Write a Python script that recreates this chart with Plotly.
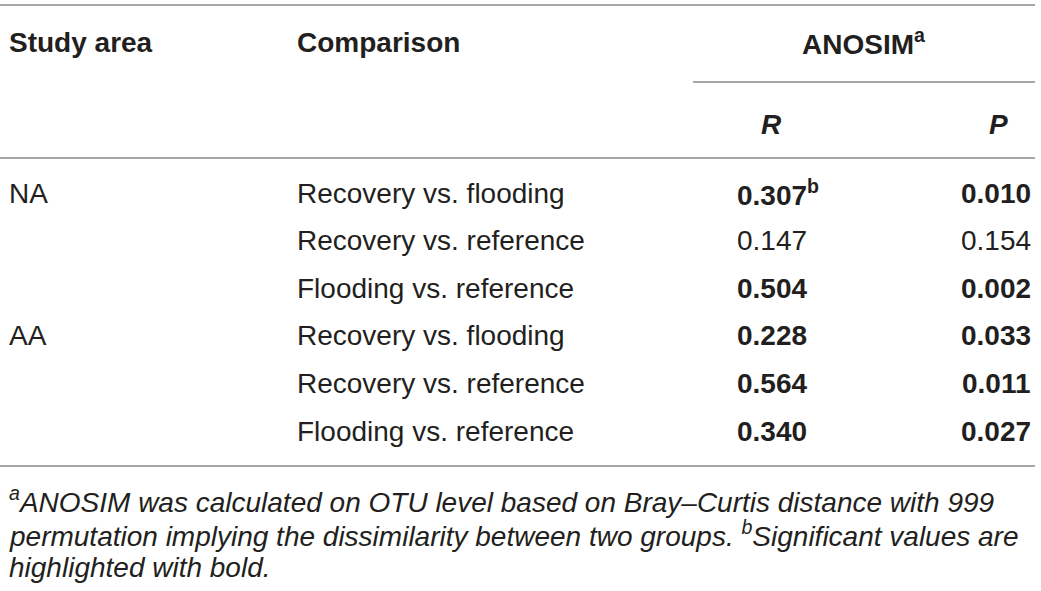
import plotly.graph_objects as go

# table content
study_area = ["NA", "", "", "AA", "", ""]
comparison = ["Recovery vs. flooding", "Recovery vs. reference", "Flooding vs. reference",
              "Recovery vs. flooding", "Recovery vs. reference", "Flooding vs. reference"]
r_values = [0.307, 0.147, 0.504, 0.228, 0.564, 0.340]
p_values = [0.010, 0.154, 0.002, 0.033, 0.011, 0.027]
significant = [True, False, True, True, True, True]
r_marks = ["b", "", "", "", "", ""]
headers = ["Study area", "Comparison"]
group_header = "ANOSIM"
sub_headers = ["R", "P"]
footnotes = [
    "<sup>a</sup>ANOSIM was calculated on OTU level based on Bray–Curtis distance with 999",
    "permutation implying the dissimilarity between two groups. <sup>b</sup>Significant values are",
    "highlighted with bold.",
]

W, H = 1041, 591
FONT = "Liberation Sans, Arial, sans-serif"
TXT = "#231f20"
RULE = "#8a8a8a"
FS = 28

# column anchors
x_area, x_comp, x_r, x_p = 7, 295, 735, 1033
x_r_mid, x_p_mid = 771, 998
row_y0, row_h = 193, 47.6

fig = go.Figure()
fig.add_trace(go.Scatter(x=[0, W], y=[0, H], mode="markers", marker=dict(opacity=0),
                         hoverinfo="skip", showlegend=False))

ann = []


def cell(x, y, text, anchor, size=FS):
    ann.append(dict(x=x, y=y, xref="x", yref="y", text=text, showarrow=False,
                    xanchor=anchor, yanchor="middle", font=dict(family=FONT, size=size, color=TXT)))


def bold(s, on=True):
    return f"<b>{s}</b>" if on else s


# header
cell(x_area, 42, bold(headers[0]), "left")
cell(x_comp, 42, bold(headers[1]), "left")
cell((693 + 1035) / 2, 42, bold(group_header + "<sup>a</sup>"), "center")
cell(x_r_mid, 124, "<b><i>" + sub_headers[0] + "</i></b>", "center")
cell(x_p_mid, 124, "<b><i>" + sub_headers[1] + "</i></b>", "center")

# body
for i in range(len(comparison)):
    y = row_y0 + i * row_h
    if study_area[i]:
        cell(x_area, y, study_area[i], "left")
    cell(x_comp, y, comparison[i], "left")
    r_txt = f"{r_values[i]:.3f}" + (f"<sup>{r_marks[i]}</sup>" if r_marks[i] else "")
    cell(x_r, y, bold(r_txt, significant[i]), "left")
    cell(x_p, y, bold(f"{p_values[i]:.3f}", significant[i]), "right")

# footnotes
for j, line in enumerate(footnotes):
    cell(x_area, 500 + j * 33.5, f"<i>{line}</i>", "left", size=28)

# horizontal rules
rules = [(0, 1035, 5), (693, 1035, 82), (0, 1035, 158), (0, 1035, 466)]
shapes = [dict(type="line", xref="x", yref="y", x0=a, x1=b, y0=y, y1=y,
               line=dict(color=RULE, width=1.5)) for a, b, y in rules]

fig.update_layout(
    width=W, height=H,
    margin=dict(l=0, r=0, t=0, b=0),
    paper_bgcolor="white", plot_bgcolor="white",
    xaxis=dict(range=[0, W], visible=False, fixedrange=True),
    yaxis=dict(range=[H, 0], visible=False, fixedrange=True),
    annotations=ann, shapes=shapes, showlegend=False,
)

# drop the default page margin so the figure sits flush in the window
fig.write_html("out.html", config={"displayModeBar": False},
               post_script="document.body.style.margin='0';")
